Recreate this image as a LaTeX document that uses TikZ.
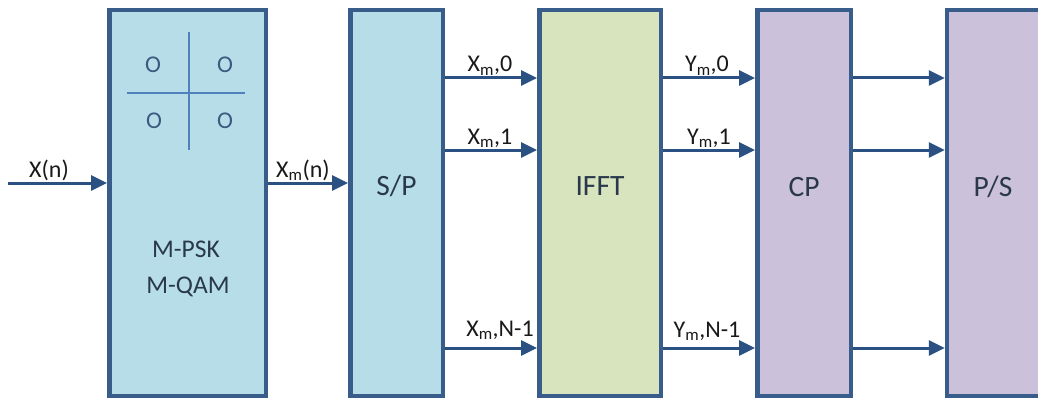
\documentclass[tikz,border=0pt]{standalone}
\usepackage{fontspec}
\setmainfont{Carlito}
\usetikzlibrary{arrows.meta}
\definecolor{bordc}{HTML}{385D8A}
\definecolor{arrc}{HTML}{2B5082}
\definecolor{fblue}{HTML}{B7DEE8}
\definecolor{fgreen}{HTML}{D7E4BD}
\definecolor{fviolet}{HTML}{CCC1DA}
\definecolor{txtc}{HTML}{2A384C}
\definecolor{linec}{HTML}{4F81BD}
\definecolor{ocol}{HTML}{3A5A80}
\begin{document}
\begin{tikzpicture}[x=1pt,y=-1pt,
  blk/.style={draw=bordc, line width=4.5pt, minimum height=385.5pt, inner sep=0pt},
  boxtxt/.style={anchor=base, inner sep=0pt, text=txtc, font=\fontsize{29.5}{34}\selectfont},
  modtxt/.style={anchor=base, inner sep=0pt, text=txtc, font=\fontsize{25.5}{30}\selectfont},
  otxt/.style={inner sep=0pt, text=ocol, font=\fontsize{24}{28}\selectfont},
  lab/.style={anchor=base, inner sep=0pt, text=black!90, font=\fontsize{24}{28}\selectfont},
  arr/.style={draw=arrc, line width=3pt, -{Triangle[length=16pt,width=15pt]}},
  cline/.style={draw=linec, line width=2pt}]
\useasboundingbox (0,0) rectangle (1038,401);
\clip (0,0) rectangle (1038,401);
% blocks
\node[blk, fill=fblue, minimum width=156.5pt] (map) at (187.5,203) {};
\node[blk, fill=fblue, minimum width=92.5pt] (sp) at (396.5,203) {};
\node[blk, fill=fgreen, minimum width=121.5pt] (ifft) at (600,203) {};
\node[blk, fill=fviolet, minimum width=93.5pt] (cp) at (804,203) {};
\node[blk, fill=fviolet, minimum width=93pt] (ps) at (993.5,203) {};
% block texts
\node[modtxt] (mpsk) at (186,257) {M-PSK};
\node[modtxt] (mqam) at (188,293) {M-QAM};
\node[boxtxt] (sptxt) at (396.5,195) {S/P};
\node[boxtxt] (iffttxt) at (600,195) {IFFT};
\node[boxtxt] (cptxt) at (804,196) {CP};
\node[boxtxt] (pstxt) at (993,196) {P/S};
% constellation
\coordinate (vt) at (189,32);
\coordinate (vb) at (189,150);
\coordinate (hl) at (127,93);
\coordinate (hr) at (245,93);
\draw[cline] (vt) -- (vb);
\draw[cline] (hl) -- (hr);
\node[otxt] (o1) at (153,65) {O};
\node[otxt] (o2) at (225,65) {O};
\node[otxt] (o3) at (154,121) {O};
\node[otxt] (o4) at (225,121) {O};
% row coordinates
\coordinate (rin) at (0,183);
\coordinate (start) at (8,183);
\coordinate (r0) at (0,78);
\coordinate (r1) at (0,150);
\coordinate (r2) at (0,348);
% arrows
\draw[arr] (start) -- (map.west |- rin);
\draw[arr] (map.east |- rin) -- (sp.west |- rin);
\foreach \r in {r0,r1,r2}{
  \draw[arr] (sp.east |- \r) -- (ifft.west |- \r);
  \draw[arr] (ifft.east |- \r) -- (cp.west |- \r);
  \draw[arr] (cp.east |- \r) -- (ps.west |- \r);
}
% labels
\node[lab] (lxn) at (49,177) {X(n)};
\node[lab] (lxmn) at (303,177) {X\textsubscript{m}(n)};
\node[lab] (lx0) at (490,72) {X\textsubscript{m},0};
\node[lab] (lx1) at (490,144) {X\textsubscript{m},1};
\node[lab] (lxn1) at (500,336) {X\textsubscript{m},N-1};
\node[lab] (ly0) at (707,72) {Y\textsubscript{m},0};
\node[lab] (ly1) at (709,144) {Y\textsubscript{m},1};
\node[lab] (lyn1) at (707,337) {Y\textsubscript{m},N-1};
\end{tikzpicture}
\end{document}
